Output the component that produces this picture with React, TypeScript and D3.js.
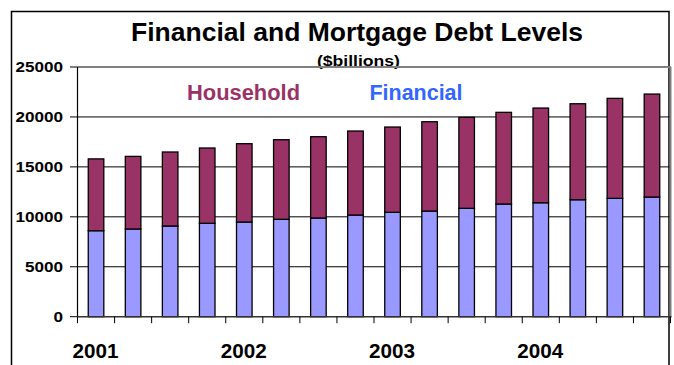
import React from "react";
import * as d3 from "d3";

const quarters = [
  "2001Q1", "2001Q2", "2001Q3", "2001Q4",
  "2002Q1", "2002Q2", "2002Q3", "2002Q4",
  "2003Q1", "2003Q2", "2003Q3", "2003Q4",
  "2004Q1", "2004Q2", "2004Q3", "2004Q4",
];
const financial = [8610, 8780, 9080, 9350, 9480, 9750, 9880, 10180, 10450, 10580, 10850, 11280, 11410, 11710, 11850, 11980];
const household = [7190, 7270, 7410, 7540, 7840, 7970, 8140, 8410, 8540, 8940, 9110, 9180, 9480, 9610, 10010, 10310];
const yTicks = [0, 5000, 10000, 15000, 20000, 25000];
const yearLabels = ["2001", "2002", "2003", "2004"];
const yearStart = ["2001Q1", "2002Q1", "2003Q1", "2004Q1"];

const W = 674;
const H = 365;
const left = 77.5;
const right = 670.5;
const top = 67;
const bottom = 316.7;

export default function App() {
  const x = d3.scaleBand<string>().domain(quarters).range([left, right]).padding(0);
  const y = d3.scaleLinear().domain([0, 25000]).range([bottom, top]);
  const rows = quarters.map((q, i) => ({ q, financial: financial[i], household: household[i] }));
  const series = d3.stack<any>().keys(["financial", "household"])(rows);
  const colors: Record<string, string> = { financial: "#9999FF", household: "#993366" };
  const bw = x.bandwidth() * 0.42;
  const edges = quarters.map((q) => x(q)!).concat([right]);
  const font = "'Liberation Sans', Arial, sans-serif";

  return (
    <svg width={W} height={H} style={{ position: "absolute", left: 0, top: 0, background: "#fff" }} fontFamily={font}>
      {/* outer frame */}
      <rect x={11.5} y={11.5} width={657.5} height={H + 20} fill="none" stroke="#000" strokeWidth={1.5} />
      {/* title */}
      <text x={357} y={41} textAnchor="middle" fontWeight="bold" fontSize={25} textLength={452} lengthAdjust="spacingAndGlyphs" fill="#000">
        Financial and Mortgage Debt Levels
      </text>
      <text x={358.4} y={66} textAnchor="middle" fontWeight="bold" fontSize={15} textLength={83} lengthAdjust="spacingAndGlyphs" fill="#000">
        ($billions)
      </text>
      {/* grid lines */}
      {yTicks.filter((t) => t > 0 && t < 25000).map((t) => (
        <line key={t} x1={left} x2={right} y1={y(t)} y2={y(t)} stroke="#000" strokeWidth={1} />
      ))}
      {/* plot area border (gray) */}
      <line x1={left} x2={right + 0.5} y1={y(25000)} y2={y(25000)} stroke="#808080" strokeWidth={2} />
      <line x1={right} x2={right} y1={y(25000)} y2={bottom} stroke="#808080" strokeWidth={2} />
      {/* bars */}
      {series.map((s) =>
        s.map((d, i) => (
          <rect
            key={s.key + i}
            x={x(quarters[i])! + x.bandwidth() / 2 - bw / 2}
            y={y(d[1])}
            width={bw}
            height={y(d[0]) - y(d[1])}
            fill={colors[s.key]}
            stroke="#000"
            strokeWidth={1.3}
          />
        ))
      )}
      {/* y axis */}
      <line x1={left} x2={left} y1={top} y2={bottom} stroke="#000" strokeWidth={1.2} />
      {yTicks.map((t) => (
        <g key={t}>
          <line x1={70} x2={left} y1={y(t)} y2={y(t)} stroke="#000" strokeWidth={1} />
          <text x={63} y={y(t) + 5.4} textAnchor="end" fontWeight="bold" fontSize={15} textLength={String(t).length * 9.5} lengthAdjust="spacingAndGlyphs" fill="#000">
            {t}
          </text>
        </g>
      ))}
      {/* x axis */}
      <line x1={left} x2={right + 1} y1={bottom} y2={bottom} stroke="#333" strokeWidth={1.5} />
      {edges.map((e, i) => (
        <line key={i} x1={e} x2={e} y1={bottom} y2={bottom + 6.5} stroke="#000" strokeWidth={1} />
      ))}
      {yearLabels.map((lab, i) => (
        <text key={lab} x={x(yearStart[i])! + x.bandwidth() / 2 - 0.5} y={357.7} textAnchor="middle" fontWeight="bold" fontSize={20} textLength={46} lengthAdjust="spacingAndGlyphs" fill="#000">
          {lab}
        </text>
      ))}
      {/* legend labels */}
      <text x={187} y={100} fontWeight="bold" fontSize={21.5} textLength={113} lengthAdjust="spacingAndGlyphs" fill="#993366">
        Household
      </text>
      <text x={369.5} y={100} fontWeight="bold" fontSize={21.5} textLength={93} lengthAdjust="spacingAndGlyphs" fill="#3366FF">
        Financial
      </text>
    </svg>
  );
}
